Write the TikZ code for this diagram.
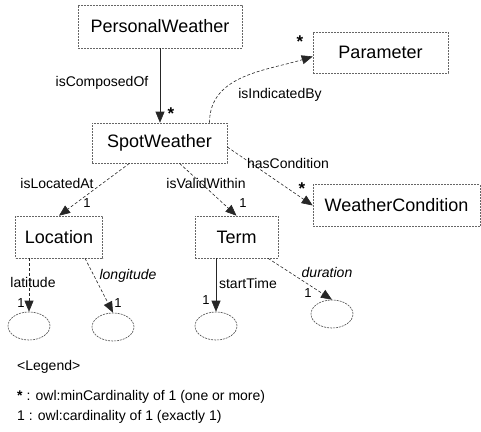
\documentclass[tikz,border=0pt]{standalone}
\usepackage{fontspec}
\setmainfont{Liberation Sans}
\usetikzlibrary{arrows.meta,shapes.geometric}
\begin{document}
\begin{tikzpicture}[x=1pt,y=-1pt,
  cls/.style={draw=black!60, dash pattern=on 2pt off 1pt, line width=0.6pt, inner sep=0pt, font=\fontsize{18}{20}\selectfont},
  lit/.style={draw=black!70, dash pattern=on 2pt off 1pt, line width=0.6pt, ellipse, inner sep=0pt, minimum width=42pt, minimum height=28pt},
  lbl/.style={font=\fontsize{14}{16}\selectfont, inner sep=0pt},
  ilbl/.style={lbl, font=\fontsize{14}{16}\selectfont\itshape},
  card/.style={font=\fontsize{13}{15}\selectfont, inner sep=0pt},
  star/.style={font=\fontsize{17}{17}\selectfont\bfseries, inner sep=0pt},
  rel/.style={-{Triangle[length=11pt,width=9pt]}, line width=0.6pt, black!85},
  reld/.style={rel, dash pattern=on 3pt off 2pt}
]
\useasboundingbox (0,0) rectangle (481,431);

% classes
\node[cls, minimum width=164pt, minimum height=43pt] (pw) at (160,26.5) {PersonalWeather};
\node[cls, minimum width=135pt, minimum height=41pt] (par) at (380.5,52.5) {Parameter};
\node[cls, minimum width=135pt, minimum height=40pt] (sw) at (159.5,143) {SpotWeather};
\node[cls, minimum width=167pt, minimum height=42pt] (wc) at (396.5,205.5) {WeatherCondition};
\node[cls, minimum width=87pt, minimum height=42pt] (loc) at (59,237) {Location};
\node[cls, minimum width=83pt, minimum height=42pt] (term) at (236.5,237) {Term};

% literals
\node[lit] (e1) at (29,326) {};
\node[lit] (e2) at (113,327) {};
\node[lit] (e3) at (216,326) {};
\node[lit] (e4) at (332,314) {};

% relations
\draw[rel] (pw.south) -- (pw.south |- sw.north);
\draw[reld] ([xshift=50pt]sw.north) to[out=90,in=197] ([yshift=-4pt]par.west);
\draw[reld] ([yshift=-4pt]sw.east) -- (wc.west);
\draw[reld] ([xshift=-30pt]sw.south) -- (loc.north);
\draw[reld] ([xshift=20pt]sw.south) -- (term.north);
\draw[reld] ([xshift=-30pt]loc.south) -- (e1.north);
\draw[reld] ([xshift=26pt]loc.south) -- (e2.north);
\draw[rel] ([xshift=-20.5pt]term.south) -- (e3.north);
\draw[reld] ([xshift=31.5pt]term.south) -- (e4.north);

% relation labels
\node[lbl] (l1) at (102,83) {isComposedOf};
\node[lbl] (l2) at (280,95) {isIndicatedBy};
\node[lbl] (l3) at (288,163) {hasCondition};
\node[lbl] (l4) at (57,183) {isLocatedAt};
\node[lbl] (l5) at (206,183) {isValidWithin};
\node[lbl] (l6) at (33,282) {latitude};
\node[ilbl] (l7) at (128,276) {longitude};
\node[lbl] (l8) at (248,283) {startTime};
\node[ilbl] (l9) at (327,272) {duration};

% cardinalities
\node[star] (s1) at (171,114) {*};
\node[star] (s2) at (300,42) {*};
\node[star] (s3) at (302,189) {*};
\node[card] (c1) at (87,203) {1};
\node[card] (c2) at (243,203) {1};
\node[card] (c3) at (21,303) {1};
\node[card] (c4) at (118,303) {1};
\node[card] (c5) at (206,300) {1};
\node[card] (c6) at (308,293) {1};

% legend
\node[lbl, anchor=west] (lg) at (17,367) {<Legend>};
\node[lbl, anchor=west] (lg1) at (17,397) {\textbf{*} : owl:minCardinality of 1 (one or more)};
\node[lbl, anchor=west] (lg2) at (17,417) {1 : owl:cardinality of 1 (exactly 1)};
\end{tikzpicture}
\end{document}
